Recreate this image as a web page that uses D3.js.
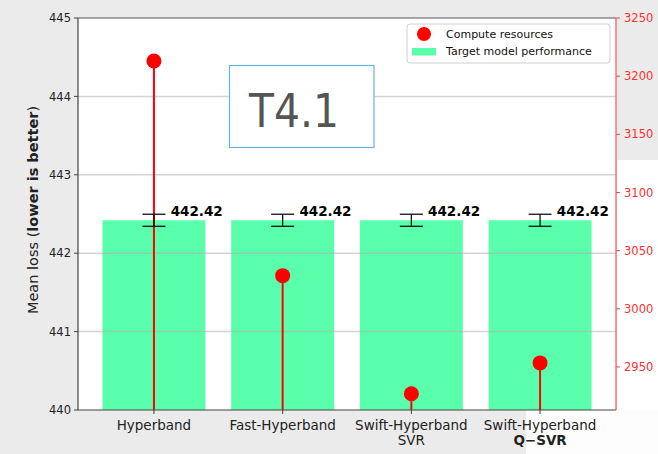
<!DOCTYPE html>
<html><head><meta charset="utf-8">
<script src="https://cdn.jsdelivr.net/npm/d3@7"></script>
<style>
html,body{margin:0;padding:0;background:#ebebeb;}
svg{display:block;}
text{font-family:"DejaVu Sans",sans-serif;}
</style></head>
<body>
<script>
const categories = ["Hyperband", "Fast-Hyperband", "Swift-Hyperband", "Swift-Hyperband"];
const subLabels = ["", "", "SVR", "Q\u2212SVR"];
const subBold = [false, false, false, true];
const meanLoss = [442.42, 442.42, 442.42, 442.42];
const lossErr = [0.077, 0.077, 0.077, 0.077];
const computeRes = [3213, 3028.5, 2927, 2953.5];
const leftTicks = [440, 441, 442, 443, 444, 445];
const rightTicks = [2950, 3000, 3050, 3100, 3150, 3200, 3250];
const legendLabels = ["Compute resources", "Target model performance"];
const boxText = "T4.1";

const W = 658, H = 454;
const L = 78, R = 616, T = 18, B = 410;
const svg = d3.select("body").append("svg").attr("width", W).attr("height", H);

// background pieces
svg.append("rect").attr("x", 0).attr("y", 0).attr("width", W).attr("height", H).attr("fill", "#ebebeb");
svg.append("rect").attr("x", 617).attr("y", 160).attr("width", W - 617).attr("height", H - 160).attr("fill", "#ffffff");
svg.append("rect").attr("x", 526).attr("y", 410).attr("width", W - 526).attr("height", H - 410).attr("fill", "#fdfdfd");
svg.append("rect").attr("x", L).attr("y", T).attr("width", R - L).attr("height", B - T).attr("fill", "#ffffff");

const x = d3.scaleLinear().domain([-0.59, 3.59]).range([L, R]);
const yL = d3.scaleLinear().domain([440, 445]).range([B, T]);
const yR = d3.scaleLinear().domain([2913, 3250]).range([B, T]);
const idx = d3.range(categories.length);
const bw = x(0.8) - x(0);

// bars
svg.append("g").selectAll("rect").data(idx).join("rect")
  .attr("x", i => x(i) - bw / 2).attr("width", bw)
  .attr("y", i => yL(meanLoss[i])).attr("height", i => yL(440) - yL(meanLoss[i]))
  .attr("fill", "rgb(90,255,172)");

// gridlines
svg.append("g").selectAll("line").data(leftTicks.filter(t => t > 440 && t < 445)).join("line")
  .attr("x1", L).attr("x2", R).attr("y1", d => yL(d)).attr("y2", d => yL(d))
  .attr("stroke", "#b0b0b0").attr("stroke-opacity", 0.55).attr("stroke-width", 1.5);

// stems
svg.append("g").selectAll("line").data(idx).join("line")
  .attr("x1", i => x(i)).attr("x2", i => x(i))
  .attr("y1", B).attr("y2", i => yR(computeRes[i]))
  .attr("stroke", "#ff0000").attr("stroke-width", 2);

// error bars
const eb = svg.append("g").attr("stroke", "#111").attr("stroke-width", 1.3);
idx.forEach(i => {
  const y1 = yL(meanLoss[i] + lossErr[i]), y2 = yL(meanLoss[i] - lossErr[i]);
  eb.append("line").attr("x1", x(i)).attr("x2", x(i)).attr("y1", y1).attr("y2", y2);
  eb.append("line").attr("x1", x(i) - 11.5).attr("x2", x(i) + 11.5).attr("y1", y1).attr("y2", y1);
  eb.append("line").attr("x1", x(i) - 11.5).attr("x2", x(i) + 11.5).attr("y1", y2).attr("y2", y2);
});

// value labels
svg.append("g").selectAll("text").data(idx).join("text")
  .attr("x", i => x(i + 0.13)).attr("y", i => yL(meanLoss[i] + lossErr[i]) + 1.8)
  .attr("font-size", "13.5px").attr("font-weight", "bold").attr("fill", "#000")
  .text(i => meanLoss[i].toFixed(2));

// circles
svg.append("g").selectAll("circle").data(idx).join("circle")
  .attr("cx", i => x(i)).attr("cy", i => yR(computeRes[i])).attr("r", 7.5)
  .attr("fill", "#ff0000");

// spines
svg.append("line").attr("x1", L).attr("x2", R).attr("y1", T).attr("y2", T).attr("stroke", "#555").attr("stroke-width", 1.2);
svg.append("line").attr("x1", L).attr("x2", L).attr("y1", T).attr("y2", B).attr("stroke", "#444").attr("stroke-width", 1.2);
svg.append("line").attr("x1", L).attr("x2", R).attr("y1", B).attr("y2", B).attr("stroke", "#444").attr("stroke-width", 1.2);
svg.append("line").attr("x1", R).attr("x2", R).attr("y1", T).attr("y2", B).attr("stroke", "#ff5050").attr("stroke-width", 1.2);

// left axis ticks
const gl = svg.append("g");
leftTicks.forEach(t => {
  gl.append("line").attr("x1", L - 4).attr("x2", L).attr("y1", yL(t)).attr("y2", yL(t)).attr("stroke", "#444").attr("stroke-width", 1);
  gl.append("text").attr("x", L - 7).attr("y", yL(t)).attr("dy", "0.36em").attr("text-anchor", "end")
    .attr("font-size", "11.5px").attr("fill", "#222").text(t);
});
// right axis ticks
const gr = svg.append("g");
rightTicks.forEach(t => {
  gr.append("line").attr("x1", R).attr("x2", R + 4).attr("y1", yR(t)).attr("y2", yR(t)).attr("stroke", "#ff4040").attr("stroke-width", 1);
  gr.append("text").attr("x", R + 8).attr("y", yR(t)).attr("dy", "0.36em")
    .attr("font-size", "11.5px").attr("fill", "#ff3030").text(t);
});
// x ticks
const gx = svg.append("g");
idx.forEach(i => {
  gx.append("line").attr("x1", x(i)).attr("x2", x(i)).attr("y1", B).attr("y2", B + 4).attr("stroke", "#444");
  gx.append("text").attr("x", x(i)).attr("y", 430).attr("text-anchor", "middle")
    .attr("font-size", "13.5px").attr("fill", "#222").text(categories[i]);
  if (subLabels[i]) gx.append("text").attr("x", x(i)).attr("y", 445).attr("text-anchor", "middle")
    .attr("font-size", "13.5px").attr("fill", "#222").attr("font-weight", subBold[i] ? "bold" : "normal").text(subLabels[i]);
});

// y label
const yl = svg.append("text").attr("transform", "translate(38,210) rotate(-90)")
  .attr("text-anchor", "middle").attr("font-size", "14.5px").attr("fill", "#222");
yl.append("tspan").text("Mean loss (");
yl.append("tspan").attr("font-weight", "bold").text("lower is better");
yl.append("tspan").text(")");

// legend
const lg = svg.append("g");
lg.append("rect").attr("x", 407).attr("y", 24).attr("width", 203).attr("height", 39).attr("rx", 3)
  .attr("fill", "#fff").attr("fill-opacity", 0.85).attr("stroke", "#d0d0d0").attr("stroke-width", 1);
lg.append("circle").attr("cx", 424).attr("cy", 34).attr("r", 7).attr("fill", "#ff0000");
lg.append("rect").attr("x", 412).attr("y", 48).attr("width", 24).attr("height", 7.5).attr("fill", "rgb(90,255,172)");
lg.append("text").attr("x", 446).attr("y", 34).attr("dy", "0.36em").attr("font-size", "11px").attr("fill", "#111").text(legendLabels[0]);
lg.append("text").attr("x", 446).attr("y", 51.5).attr("dy", "0.36em").attr("font-size", "11px").attr("fill", "#111").text(legendLabels[1]);

// T4.1 box
svg.append("rect").attr("x", 229.5).attr("y", 65.5).attr("width", 144.5).attr("height", 82)
  .attr("fill", "#fff").attr("stroke", "#64b5e0").attr("stroke-width", 1.2);
svg.append("text").attr("x", 249).attr("y", 126.7).attr("font-family", "'Open Sans',sans-serif")
  .attr("font-size", "46px").attr("fill", "#555").attr("textLength", 90).attr("lengthAdjust", "spacingAndGlyphs").text(boxText);
</script>
</body></html>
